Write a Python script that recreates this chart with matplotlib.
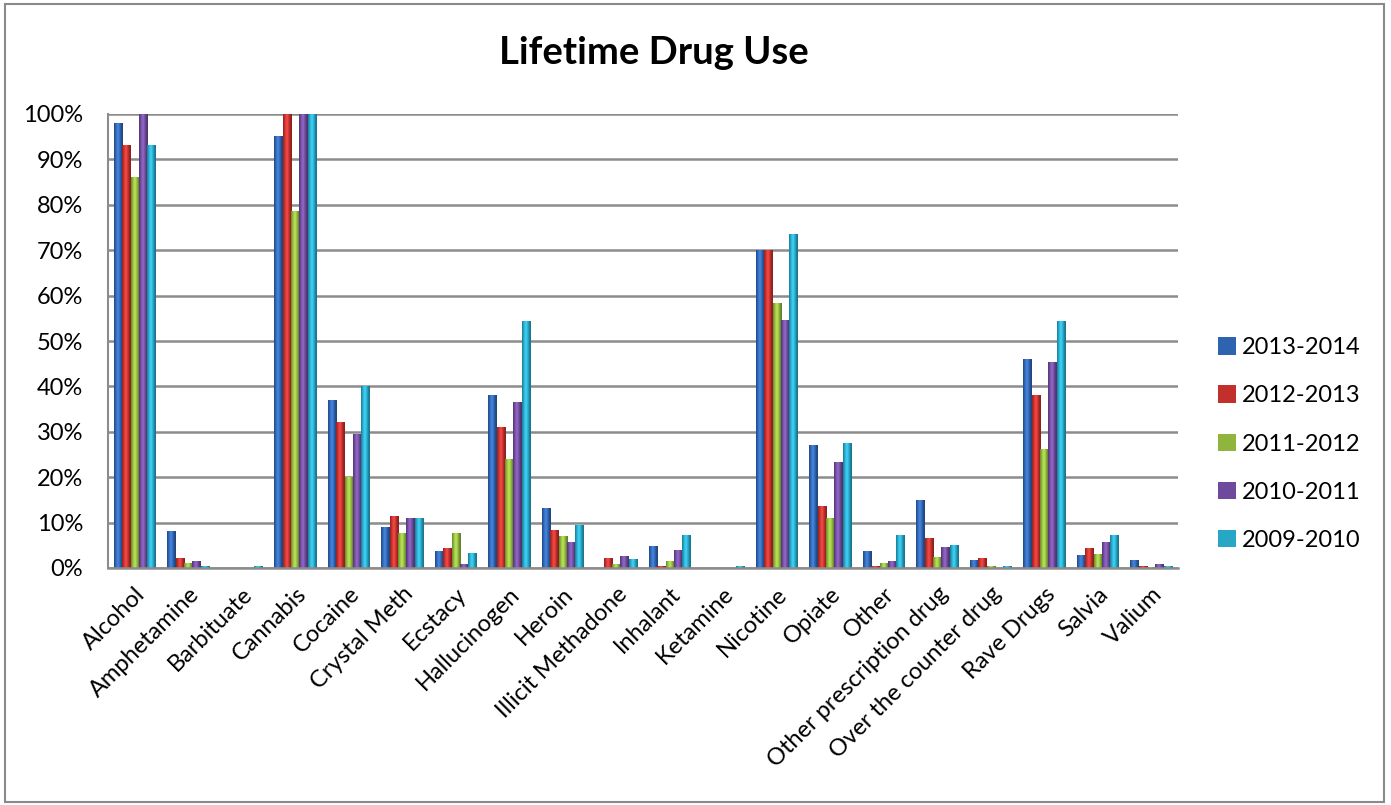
import matplotlib
matplotlib.use("Agg")
import matplotlib.pyplot as plt
import numpy as np
from matplotlib.colors import to_rgb
from matplotlib.patches import Rectangle

plt.rcParams['font.family'] = ['Lato', 'DejaVu Sans']

categories = ["Alcohol", "Amphetamine", "Barbituate", "Cannabis", "Cocaine",
              "Crystal Meth", "Ecstacy", "Hallucinogen", "Heroin",
              "Illicit Methadone", "Inhalant", "Ketamine", "Nicotine", "Opiate",
              "Other", "Other prescription drug", "Over the counter drug",
              "Rave Drugs", "Salvia", "Valium"]

# Lifetime use share (%) per school year
y2013_2014 = [98, 8, 0, 95, 37, 9, 3.6, 38, 13, 0, 4.7, 0, 70, 27, 3.7, 14.8, 1.7, 46, 2.7, 1.7]
y2012_2013 = [93, 2, 0, 100, 32, 11.3, 4.3, 31, 8.2, 2, 0.3, 0, 70, 13.5, 0.4, 6.6, 2, 38, 4.4, 0.3]
y2011_2012 = [86, 1, 0, 78.5, 20, 7.7, 7.5, 24, 7, 0.8, 1.5, 0, 58.3, 10.8, 1, 2.3, 0.3, 26, 3, 0.2]
y2010_2011 = [100, 1.5, 0, 100, 29.5, 10.8, 0.8, 36.5, 5.6, 2.6, 3.8, 0, 54.5, 23.3, 1.4, 4.5, 0, 45.3, 5.6, 0.8]
y2009_2010 = [93, 0.4, 0.4, 100, 40, 10.8, 3.3, 54.3, 9.4, 1.8, 7.2, 0.3, 73.5, 27.5, 7.2, 5, 0.3, 54.3, 7.2, 0.3]

series_labels = ["2013-2014", "2012-2013", "2011-2012", "2010-2011", "2009-2010"]
series_values = [y2013_2014, y2012_2013, y2011_2012, y2010_2011, y2009_2010]
series_colors = ["#2e63b0", "#c3302c", "#8fb53c", "#6e4a9c", "#27a6c6"]

W, H = 1391, 805
fig = plt.figure(figsize=(W / 100, H / 100), dpi=100)
fig.patch.set_facecolor("white")

# outer chart frame
fig.patches.append(Rectangle((5 / W, 3 / H), (1384 - 5) / W, (801 - 3) / H,
                             transform=fig.transFigure, fill=False,
                             edgecolor="#8a8a8a", linewidth=1.5))

ax = fig.add_axes([108 / W, 1 - 568 / H, (1178 - 108) / W, (568 - 114) / H])

n = len(categories)
x = np.arange(n)
bw = 0.156

# horizontal shading profile that gives each bar a rounded, cylindrical look
t = np.linspace(0, 1, 32)
profile = 0.72 + 0.42 * np.sin(np.pi * np.clip(t * 1.15, 0, 1)) ** 0.8

for i, (lab, vals, c) in enumerate(zip(series_labels, series_values, series_colors)):
    offs = x + (i - 2) * bw
    heights = np.array(vals) / 100.0
    ax.bar(offs, heights, width=bw, color=c, linewidth=0, label=lab, zorder=3)
    rgb = np.array(to_rgb(c))
    shade = np.clip(rgb[None, :] * profile[:, None], 0, 1)
    shade = np.clip(shade + (profile[:, None] > 1.08) * 0.06, 0, 1)
    img = shade[None, :, :]
    for xc, h in zip(offs, heights):
        if h <= 0:
            continue
        ax.imshow(img, extent=(xc - bw / 2, xc + bw / 2, 0, h), aspect="auto",
                  interpolation="bilinear", zorder=4)

ax.set_xlim(-0.5, n - 0.5)
ax.set_ylim(0, 1.0)
ax.set_yticks(np.arange(0, 1.01, 0.1))
ax.set_yticklabels([f"{int(round(v * 100))}%" for v in np.arange(0, 1.01, 0.1)],
                   fontsize=17)
ax.yaxis.grid(True, color="#8c8c8c", linewidth=1.8, zorder=0)
ax.set_axisbelow(True)
ax.tick_params(axis="y", length=0, pad=18)
ax.tick_params(axis="x", length=0, pad=11)

ax.set_xticks(x)
ax.set_xticklabels(categories, rotation=45, ha="right", va="top",
                   rotation_mode="anchor", fontsize=17)

for side in ["top", "right"]:
    ax.spines[side].set_visible(False)
ax.spines["left"].set_color("#8c8c8c")
ax.spines["left"].set_linewidth(1.5)
ax.spines["bottom"].set_color("#8c8c8c")
ax.spines["bottom"].set_linewidth(1.8)
ax.spines["bottom"].set_zorder(5)

fig.text(654 / W, 1 - 53 / H, "Lifetime Drug Use", ha="center", va="center",
         fontsize=27.5, fontweight="bold")

leg = ax.legend(loc="center left", bbox_to_anchor=(1218 / W, 1 - 444 / H),
                bbox_transform=fig.transFigure, frameon=False, fontsize=17,
                handlelength=0.75, handleheight=0.75, handletextpad=0.25,
                labelspacing=1.15, borderaxespad=0, borderpad=0)

fig.savefig("out.png", dpi=100, facecolor="white")
